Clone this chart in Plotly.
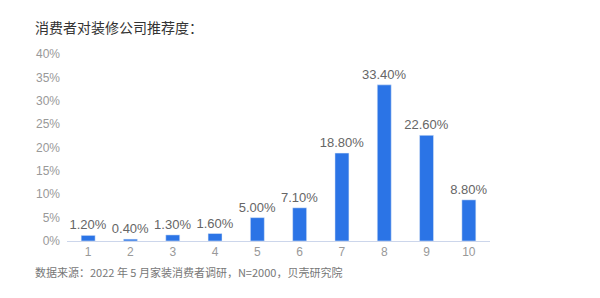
import plotly.graph_objects as go

categories = ["1", "2", "3", "4", "5", "6", "7", "8", "9", "10"]
values = [1.2, 0.4, 1.3, 1.6, 5.0, 7.1, 18.8, 33.4, 22.6, 8.8]
labels = [f"{v:.2f}%" for v in values]
y_ticks = [0, 5, 10, 15, 20, 25, 30, 35, 40]
y_tick_text = [f"{t}%" for t in y_ticks]

title = "消费者对装修公司推荐度："
source = "数据来源：2022 年 5 月家装消费者调研，N=2000，贝壳研究院"

font = "Noto Sans CJK SC, Liberation Sans, sans-serif"
latin = "Liberation Sans, Arial, sans-serif"

fig = go.Figure(go.Bar(
    x=categories, y=values,
    marker_color="#2b74e6",
    text=labels, textposition="outside",
    textfont=dict(size=13, color="#666666", family=latin),
    constraintext="none",
    cliponaxis=False,
))

fig.update_layout(
    width=600, height=298,
    margin=dict(l=67, r=110, t=54, b=57),
    paper_bgcolor="white", plot_bgcolor="white",
    showlegend=False,
    bargap=0.67,
    font=dict(family=font),
    xaxis=dict(
        type="category", showgrid=False, showline=True,
        linecolor="#ccd6eb", linewidth=1, ticks="",
        tickfont=dict(size=12, color="#999999", family=latin),
    ),
    yaxis=dict(
        range=[0, 40], tickvals=y_ticks, ticktext=y_tick_text,
        showgrid=False, zeroline=False, showline=False, ticks="",
        tickfont=dict(size=12, color="#999999", family=latin),
        ticklabelstandoff=6,
    ),
    annotations=[
        dict(text=title, x=33, y=27, xref="paper", yref="paper", showarrow=False,
             xanchor="left", yanchor="middle",
             font=dict(size=14, color="#333333", family=font)),
        dict(text=source, x=33, y=272, xref="paper", yref="paper", showarrow=False,
             xanchor="left", yanchor="middle",
             font=dict(size=11, color="#777777", family=font)),
    ],
)

# convert pixel annotation positions to paper coords
pw = 600 - 67 - 110
ph = 298 - 54 - 57
for a in fig.layout.annotations:
    px, py = a.x, a.y
    a.x = (px - 67) / pw
    a.y = 1 - (py - 54) / ph

fig.write_html("out.html")
